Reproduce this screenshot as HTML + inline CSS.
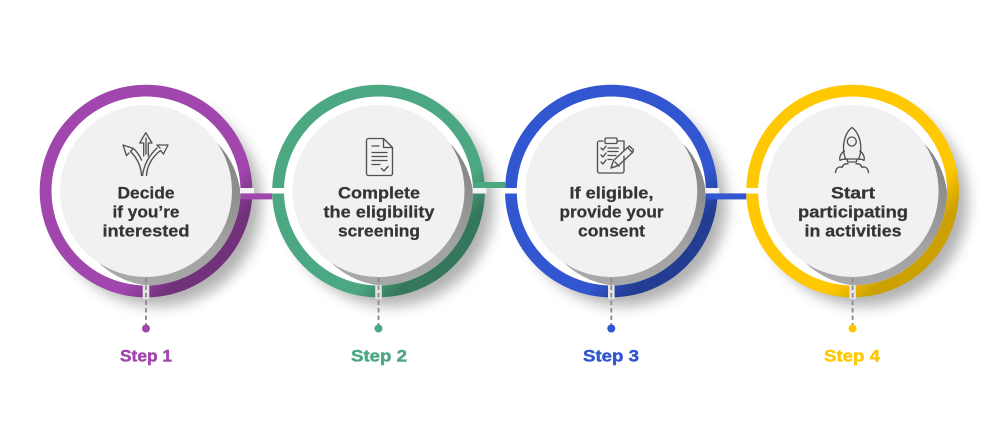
<!DOCTYPE html>
<html lang="en">
<head>
<meta charset="utf-8">
<title>Four steps</title>
<style>
html,body{margin:0;padding:0;background:#fff}
body{width:1000px;height:446px;overflow:hidden}
svg{display:block}
.t{font-family:"Liberation Sans",sans-serif;font-weight:700;font-size:16.5px;fill:#333437;stroke:#333437;stroke-width:.25;text-anchor:middle}
.s{font-family:"Liberation Sans",sans-serif;font-weight:700;font-size:17px;stroke-width:.45}
.i{fill:none;stroke:#515153;stroke-width:1.35;stroke-linejoin:round;stroke-linecap:round}
</style>
</head>
<body>
<svg width="1000" height="446" viewBox="0 0 1000 446" xmlns="http://www.w3.org/2000/svg">
<defs>
  <filter id="blur" x="-30%" y="-30%" width="160%" height="160%"><feGaussianBlur stdDeviation="7"/></filter>
  <linearGradient id="dark" gradientUnits="userSpaceOnUse" x1="38" y1="38" x2="60" y2="60">
    <stop offset="0" stop-color="#000" stop-opacity="0"/>
    <stop offset="1" stop-color="#000" stop-opacity=".29"/>
  </linearGradient>
  <linearGradient id="darky" gradientUnits="userSpaceOnUse" x1="38" y1="38" x2="60" y2="60">
    <stop offset="0" stop-color="#000" stop-opacity="0"/>
    <stop offset="1" stop-color="#000" stop-opacity=".2"/>
  </linearGradient>
  <linearGradient id="sh" gradientUnits="userSpaceOnUse" x1="80" y1="-60" x2="-40" y2="90">
    <stop offset="0" stop-color="#7f7f7f"/>
    <stop offset=".5" stop-color="#a3a3a3"/>
    <stop offset="1" stop-color="#a9a9a9"/>
  </linearGradient>
  <clipPath id="inner"><circle r="94.5"/></clipPath>
  <g id="outer"><circle cx="12" cy="12" r="103" fill="#000" opacity=".3" filter="url(#blur)"/></g>
  <g id="core">
    <circle r="94.5" fill="#fff"/>
    <circle cx="10.7" cy="10.7" r="84.3" fill="url(#sh)" clip-path="url(#inner)"/>
    <circle r="86" fill="#f1f1f1"/>
  </g>
  <circle id="darkring" r="100.3" fill="none" stroke="url(#dark)" stroke-width="12"/>
  <circle id="darkringy" r="100.3" fill="none" stroke="url(#darky)" stroke-width="12"/>
</defs>

<rect width="1000" height="446" fill="#fff"/>

<!-- Step 1 -->
<g transform="translate(146,191)">
  <use href="#outer"/>
  <circle r="100.3" fill="none" stroke="#a046ad" stroke-width="12"/>
  <use href="#darkring"/>
  <use href="#core"/>
  <rect x="94" y="-3" width="14" height="5.5" fill="#f4f4f4"/>
  <rect x="-3.3" y="94" width="6.6" height="14" fill="#e4e4e4"/>
</g>
<!-- Step 2 -->
<g transform="translate(378.5,191)">
  <use href="#outer"/>
  <circle r="100.3" fill="none" stroke="#4ba882" stroke-width="12"/>
  <use href="#darkring"/>
  <use href="#core"/>
  <rect x="94" y="-3" width="14" height="5.5" fill="#f4f4f4"/>
  <rect x="-107" y="-3" width="14" height="5.5" fill="#fff"/>
  <rect x="-3.3" y="94" width="6.6" height="14" fill="#e4e4e4"/>
</g>
<!-- Step 3 -->
<g transform="translate(611.3,191)">
  <use href="#outer"/>
  <circle r="100.3" fill="none" stroke="#3156cf" stroke-width="12"/>
  <use href="#darkring"/>
  <use href="#core"/>
  <rect x="94" y="-3" width="14" height="5.5" fill="#f4f4f4"/>
  <rect x="-107" y="-3" width="14" height="5.5" fill="#fff"/>
  <rect x="-3.3" y="94" width="6.6" height="14" fill="#e4e4e4"/>
</g>
<!-- Step 4 -->
<g transform="translate(852.6,191)">
  <use href="#outer"/>
  <circle r="100.3" fill="none" stroke="#ffc800" stroke-width="12"/>
  <use href="#darkringy"/>
  <use href="#core"/>
  <rect x="-107" y="-3" width="14" height="5.5" fill="#fff"/>
  <rect x="-3.3" y="94" width="6.6" height="14" fill="#e4e4e4"/>
</g>

<!-- connectors -->
<rect x="240.7" y="193.4" width="31.5" height="6" fill="#a046ad"/>
<rect x="473" y="182" width="32" height="6" fill="#4ba882"/>
<rect x="706.7" y="193.4" width="39.6" height="6" fill="#3156cf"/>

<!-- dashed leaders -->
<g stroke="#8a8a8a" stroke-width="1.8" stroke-dasharray="4.5 3" fill="none">
  <line x1="146" y1="278" x2="146" y2="325"/>
  <line x1="378.5" y1="278" x2="378.5" y2="325"/>
  <line x1="611.3" y1="278" x2="611.3" y2="325"/>
  <line x1="852.6" y1="278" x2="852.6" y2="325"/>
</g>
<circle cx="146" cy="328.5" r="4" fill="#a046ad"/>
<circle cx="378.5" cy="328.5" r="4" fill="#4ba882"/>
<circle cx="611.3" cy="328.5" r="4" fill="#3156cf"/>
<circle cx="852.6" cy="328.5" r="4" fill="#ffc800"/>

<!-- labels -->
<text class="t" x="146" y="198.3" textLength="57" lengthAdjust="spacingAndGlyphs">Decide</text>
<text class="t" x="146" y="217.5" textLength="67" lengthAdjust="spacingAndGlyphs">if you’re</text>
<text class="t" x="146" y="236.6" textLength="87" lengthAdjust="spacingAndGlyphs">interested</text>

<text class="t" x="379" y="198.3" textLength="82" lengthAdjust="spacingAndGlyphs">Complete</text>
<text class="t" x="379" y="217.5" textLength="111" lengthAdjust="spacingAndGlyphs">the eligibility</text>
<text class="t" x="379" y="236.6" textLength="82" lengthAdjust="spacingAndGlyphs">screening</text>

<text class="t" x="611.5" y="198.3" textLength="84" lengthAdjust="spacingAndGlyphs">If eligible,</text>
<text class="t" x="611.5" y="217.5" textLength="104" lengthAdjust="spacingAndGlyphs">provide your</text>
<text class="t" x="611.5" y="236.6" textLength="67" lengthAdjust="spacingAndGlyphs">consent</text>

<text class="t" x="853" y="198.3" textLength="44" lengthAdjust="spacingAndGlyphs">Start</text>
<text class="t" x="853" y="217.5" textLength="110" lengthAdjust="spacingAndGlyphs">participating</text>
<text class="t" x="853" y="236.6" textLength="97" lengthAdjust="spacingAndGlyphs">in activities</text>

<text class="s" x="120" y="361.7" fill="#a046ad" stroke="#a046ad" textLength="52" lengthAdjust="spacingAndGlyphs">Step 1</text>
<text class="s" x="351" y="361.7" fill="#4ba882" stroke="#4ba882" textLength="56" lengthAdjust="spacingAndGlyphs">Step 2</text>
<text class="s" x="583" y="361.7" fill="#3156cf" stroke="#3156cf" textLength="56" lengthAdjust="spacingAndGlyphs">Step 3</text>
<text class="s" x="824" y="361.7" fill="#ffc800" stroke="#ffc800" textLength="56" lengthAdjust="spacingAndGlyphs">Step 4</text>

<!-- icon: arrows -->
<g class="i">
  <path d="M143.700 156V143H139.700L145.800 132.700L152 143H148.300V156"/>
  <path d="M146 138V154"/>
  <path d="M141.500 175.500C141 165 136 157 130.500 151.500L133.500 148.500L123 145L126.500 155.500L129 153"/>
  <path d="M141.500 160C139.500 155.500 137 152 134.500 149.500"/>
  <path d="M146.500 175.500C147 166 152 157 160.500 150.500L163.500 154L168 145L157 145L160 148"/>
  <path d="M142.500 175.500C144 165 149 155.500 157 148"/>
</g>

<!-- icon: document -->
<g class="i">
  <path d="M383.500 138.500H368.500A2 2 0 0 0 366.500 140.500V173.500A2 2 0 0 0 368.500 175.500H390.500A2 2 0 0 0 392.500 173.500V147.500Z"/>
  <path d="M383.500 138.500V147.500H392.500"/>
  <path d="M372 146H379M372 152.500H387M372 156.500H387M372 160.500H387M372 164.500H380M381.500 168.500L384 171L388 166.500"/>
</g>

<!-- icon: clipboard -->
<g class="i">
  <path d="M603 141H599.500A2 2 0 0 0 597.500 143V171A2 2 0 0 0 599.500 173H622A2 2 0 0 0 624 171V156"/>
  <path d="M618 141H624V150"/>
  <rect x="605" y="138" width="12" height="5.500" rx="1.300"/>
  <path d="M601 148L603 150L606 146M601 155L603 157L606 153M601 162L603 164L606 160"/>
  <path d="M608 148H618.500M608 151.500H618M608 155.500H616M608 159.500H612"/>
  <path d="M611 168L613.500 160.500L627.500 147.500L632.500 152.500L618.500 165.500Z"/>
  <path d="M611 168L617 166M627.500 147.500L629.500 146L633.500 150L632.500 152.500M615 162L619 166"/>
</g>

<!-- icon: rocket -->
<g class="i">
  <path d="M852 127.500C847 131 843.500 139 843.500 148C843.500 152 844.500 156 845.500 159H858.500C860 156 860.800 152 860.800 148C860.800 139 857 131 852 127.500Z"/>
  <circle cx="851.800" cy="141.500" r="4.500"/>
  <path d="M844.500 151C841 153 839 157 840 160.500C842 159 844 159 846 159.500"/>
  <path d="M859.800 151C863 153 865 157 864 160.500C862 159 860 159 858.500 159.500"/>
  <path d="M847.500 159V162H856.500V159"/>
  <path d="M835.500 172.500C836 168 839 166 842 167.500C843 164.500 845.500 163.500 848 163.800"/>
  <path d="M868.500 172.500C868 168 865 166 862 167.500C861 164.500 858.500 163.500 856 163.800"/>
</g>
</svg>
</body>
</html>
